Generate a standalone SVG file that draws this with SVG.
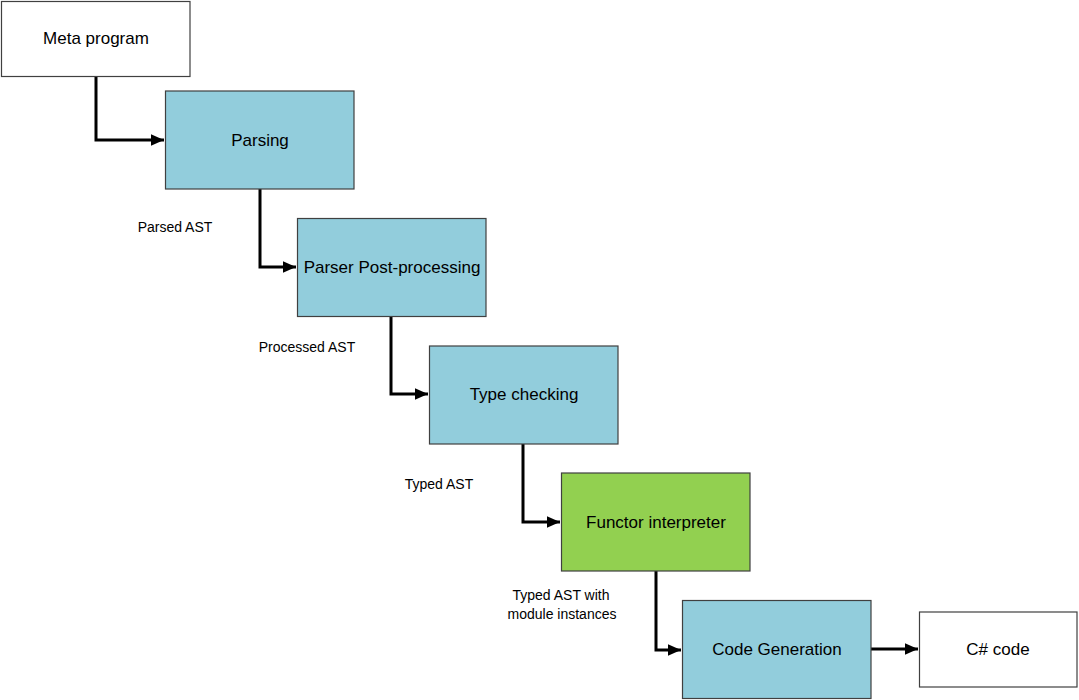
<svg xmlns="http://www.w3.org/2000/svg" width="1079" height="700" viewBox="0 0 1079 700">
<style>
.box{stroke:#404040;stroke-width:1.2}
.w{fill:#ffffff}.b{fill:#92CDDC}.g{fill:#92D050}
.t{font-family:"Liberation Sans",Arial,sans-serif;font-size:17px;fill:#000;text-anchor:middle}
.l{font-family:"Liberation Sans",Arial,sans-serif;font-size:14px;fill:#000;text-anchor:middle}
.c{fill:none;stroke:#000;stroke-width:3;stroke-linejoin:miter}
</style>
<defs>
<marker id="ah" markerWidth="4.5" markerHeight="4" refX="4.5" refY="2" orient="auto" markerUnits="strokeWidth">
<path d="M0,0 L4.5,2 L0,4 z" fill="#000"/>
</marker>
</defs>
<rect width="1079" height="700" fill="#fff"/>
<g id="connectors">
<path class="c" d="M96,76 V140 H164" marker-end="url(#ah)"/>
<path class="c" d="M260,189 V267 H296" marker-end="url(#ah)"/>
<path class="c" d="M391,316 V394 H428" marker-end="url(#ah)"/>
<path class="c" d="M523,444 V522 H560" marker-end="url(#ah)"/>
<path class="c" d="M656,571 V650 H681" marker-end="url(#ah)"/>
<path class="c" d="M871,649 H918" marker-end="url(#ah)"/>
</g>
<g id="meta"><rect class="box w" x="1.5" y="1.5" width="188.5" height="75"/><text class="t" x="96" y="44">Meta program</text></g>
<g id="parsing"><rect class="box b" x="165.5" y="91" width="188.5" height="98"/><text class="t" x="260" y="146">Parsing</text></g>
<g id="postproc"><rect class="box b" x="297.5" y="218.5" width="188.5" height="98"/><text class="t" x="392" y="273">Parser Post-processing</text></g>
<g id="typecheck"><rect class="box b" x="429.5" y="346" width="188.5" height="98"/><text class="t" x="524" y="400">Type checking</text></g>
<g id="functor"><rect class="box g" x="561.5" y="473" width="188.5" height="98"/><text class="t" x="656" y="528">Functor interpreter</text></g>
<g id="codegen"><rect class="box b" x="682.5" y="600.5" width="188.5" height="98"/><text class="t" x="777" y="655">Code Generation</text></g>
<g id="csharp"><rect class="box w" x="919.5" y="612" width="157.5" height="75"/><text class="t" x="998" y="655">C# code</text></g>
<g id="labels">
<text class="l" x="175" y="232">Parsed AST</text>
<text class="l" x="307" y="352">Processed AST</text>
<text class="l" x="439" y="489">Typed AST</text>
<text class="l" x="561" y="600">Typed AST with</text>
<text class="l" x="562" y="619">module instances</text>
</g>
</svg>
